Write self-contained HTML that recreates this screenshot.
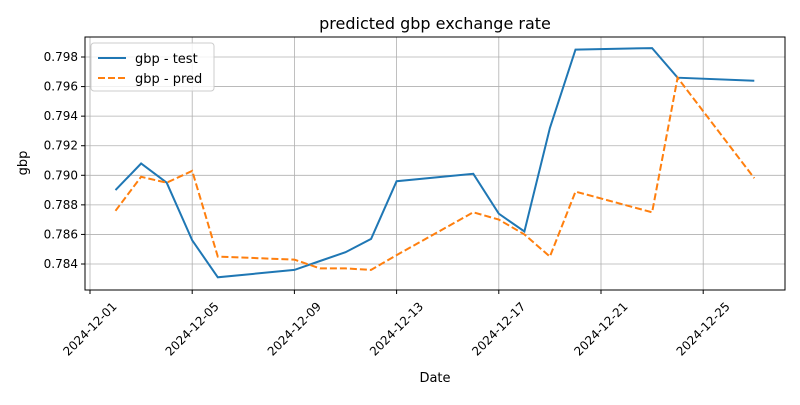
<!DOCTYPE html>
<html><head><meta charset="utf-8"><style>
body{margin:0;background:#fff;font-family:"Liberation Sans","DejaVu Sans",sans-serif;}
svg text{font-family:"DejaVu Sans","Liberation Sans",sans-serif;fill:#000;}
</style></head><body>
<svg id="chart" width="800" height="400" xmlns="http://www.w3.org/2000/svg">
<text x="435" y="29" font-size="16" text-anchor="middle">predicted gbp exchange rate</text>
<g id="grid"></g><g id="axes"></g><g id="series"></g>
<rect x="85" y="37" width="700" height="253" fill="none" stroke="#000" stroke-width="1"/>
<text x="435" y="382" font-size="13" text-anchor="middle">Date</text>
<text x="27" y="163" font-size="13" text-anchor="middle" transform="rotate(-90 27 163)">gbp</text>
<g>
<rect x="91" y="43" width="123" height="48" fill="#fff" fill-opacity="0.8" stroke="#ccc" rx="3"/>
<line x1="98" y1="58" x2="126" y2="58" stroke="#1f77b4" stroke-width="2"/>
<text x="135" y="63" font-size="13">gbp - test</text>
<line x1="98" y1="78" x2="126" y2="78" stroke="#ff7f0e" stroke-width="2" stroke-dasharray="7,3"/>
<text x="135" y="83" font-size="13">gbp - pred</text>
</g>
</svg>
<script>
const days=[2,3,4,5,6,9,10,11,12,13,16,17,18,19,20,23,24,27];
const testVals=[0.7890,0.7908,0.7895,0.7856,0.7831,0.7836,0.7842,0.7848,0.7857,0.7896,0.7901,0.7874,0.7862,0.7932,0.7985,0.7986,0.7966,0.7964];
const predVals=[0.7876,0.7899,0.7895,0.7903,0.7845,0.7843,0.7837,0.7837,0.7836,0.7846,0.7875,0.7870,0.7860,0.7845,0.7889,0.7875,0.7966,0.7898];
const yTicks=[0.784,0.786,0.788,0.790,0.792,0.794,0.796,0.798];
const xTickDays=[1,5,9,13,17,21,25];
const NS="http://www.w3.org/2000/svg";
const X=d=>90+(d-1)*25.55;
const Y=v=>264-(v-0.784)/0.002*29.57;
const grid=document.getElementById('grid'),axes=document.getElementById('axes'),ser=document.getElementById('series');
function mk(tag,at,parent){const e=document.createElementNS(NS,tag);for(const k in at)e.setAttribute(k,at[k]);parent.appendChild(e);return e;}
yTicks.forEach(v=>{const y=Y(v);
const g=mk('line',{x1:85,x2:785,y1:y,y2:y,stroke:'#b0b0b0','stroke-width':0.8},grid);


mk('line',{x1:81,x2:85,y1:y,y2:y,stroke:'#000'},axes);
const t=mk('text',{x:78,y:y+4,'font-size':12,'text-anchor':'end'},axes);t.textContent=v.toFixed(3);

});
xTickDays.forEach(d=>{const x=X(d);
const g=mk('line',{x1:x,x2:x,y1:37,y2:290,stroke:'#b0b0b0','stroke-width':0.8},grid);


mk('line',{x1:x,x2:x,y1:290,y2:294,stroke:'#000'},axes);
const lbl='2024-12-'+String(d).padStart(2,'0');
const cy=329;
const t=mk('text',{x:x,y:cy+4,'font-size':12,'text-anchor':'middle',transform:`rotate(-45 ${x} ${cy})`},axes);t.textContent=lbl;

});
function line(vals,color,dash,name){const p=days.map((d,i)=>X(d).toFixed(1)+','+Y(vals[i]).toFixed(1)).join(' ');
const a={points:p,fill:'none',stroke:color,'stroke-width':2};if(dash)a['stroke-dasharray']=dash;
const e=mk('polyline',a,ser);

}
line(testVals,'#1f77b4',null,'test-line');
line(predVals,'#ff7f0e','7,3','pred-line');
</script>
</body></html>
